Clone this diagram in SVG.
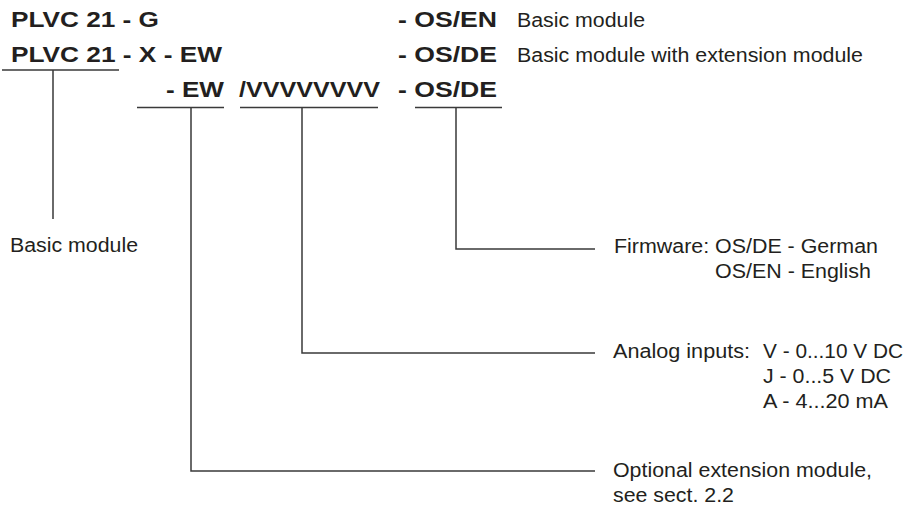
<svg xmlns="http://www.w3.org/2000/svg" width="906" height="509" viewBox="0 0 906 509">
<style>
.b{font-family:"Liberation Sans",Arial,Helvetica,sans-serif;font-weight:bold;font-size:22px;fill:#231f20}
.r{font-family:"Liberation Sans",Arial,Helvetica,sans-serif;font-size:20px;fill:#231f20}
.ln{stroke:#3a3a3a;stroke-width:1.5;fill:none}
</style>
<rect width="906" height="509" fill="#ffffff"/>
<g id="code-row1">
<text class="b" x="11" y="27" textLength="148" lengthAdjust="spacingAndGlyphs">PLVC 21 - G</text>
<text class="b" x="398" y="27" textLength="99" lengthAdjust="spacingAndGlyphs">- OS/EN</text>
<text class="r" x="517" y="27" textLength="128" lengthAdjust="spacingAndGlyphs">Basic module</text>
</g>
<g id="code-row2">
<text class="b" x="11" y="62" textLength="211" lengthAdjust="spacingAndGlyphs">PLVC 21 - X - EW</text>
<text class="b" x="398" y="62" textLength="99" lengthAdjust="spacingAndGlyphs">- OS/DE</text>
<text class="r" x="517" y="62" textLength="346" lengthAdjust="spacingAndGlyphs">Basic module with extension module</text>
</g>
<g id="code-row3">
<text class="b" x="166" y="97" textLength="58" lengthAdjust="spacingAndGlyphs">- EW</text>
<text class="b" x="239" y="97" textLength="141" lengthAdjust="spacingAndGlyphs">/VVVVVVVV</text>
<text class="b" x="398" y="97" textLength="99" lengthAdjust="spacingAndGlyphs">- OS/DE</text>
</g>
<g id="label-basic">
<text class="r" x="10" y="252" textLength="128" lengthAdjust="spacingAndGlyphs">Basic module</text>
</g>
<g id="label-firmware">
<text class="r" x="614" y="253" textLength="264" lengthAdjust="spacingAndGlyphs">Firmware: OS/DE - German</text>
<text class="r" x="715" y="278" textLength="156" lengthAdjust="spacingAndGlyphs">OS/EN - English</text>
</g>
<g id="label-analog">
<text class="r" x="613" y="358" textLength="137" lengthAdjust="spacingAndGlyphs">Analog inputs:</text>
<text class="r" x="763" y="358" textLength="140" lengthAdjust="spacingAndGlyphs">V - 0...10 V DC</text>
<text class="r" x="763" y="383" textLength="128" lengthAdjust="spacingAndGlyphs">J - 0...5 V DC</text>
<text class="r" x="763" y="408" textLength="125" lengthAdjust="spacingAndGlyphs">A - 4...20 mA</text>
</g>
<g id="label-extension">
<text class="r" x="613" y="477" textLength="259" lengthAdjust="spacingAndGlyphs">Optional extension module,</text>
<text class="r" x="613" y="502" textLength="121" lengthAdjust="spacingAndGlyphs">see sect. 2.2</text>
</g>
<g id="connectors">
<path class="ln" d="M2 70H119M53 70V219"/>
<path class="ln" d="M137 107.5H224M191 107.5V471H595"/>
<path class="ln" d="M240 107.5H378M302 107.5V353H595"/>
<path class="ln" d="M415 107.5H502M456 107.5V249H595"/>
</g>
</svg>
